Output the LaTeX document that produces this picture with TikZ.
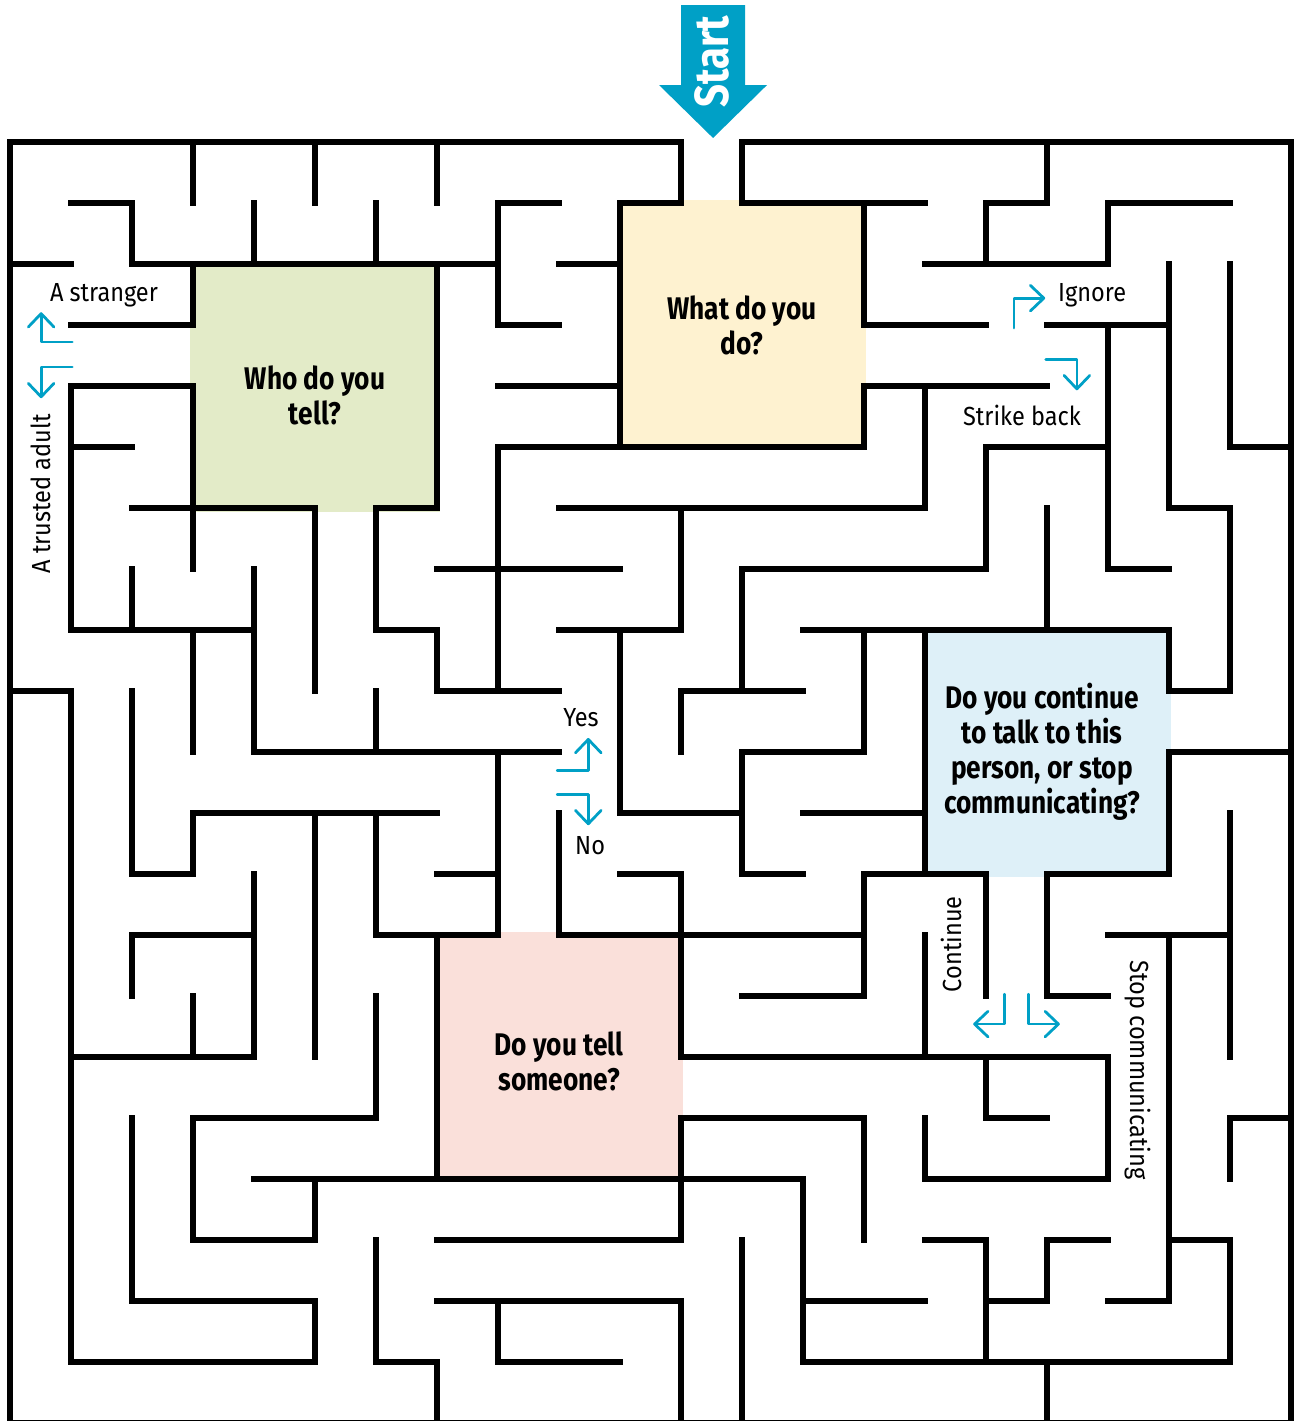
\documentclass[tikz,border=0pt]{standalone}
\usepackage{fontspec}
\setmainfont{Fira Sans}[FakeStretch=0.9]
\newfontfamily\boxfont{Fira Sans}[FakeStretch=0.84]
\usepackage{xcolor}
\usepackage{tikz}
\usetikzlibrary{arrows.meta,positioning}

\definecolor{mazeblue}{HTML}{00A0C6}
\definecolor{whofill}{HTML}{E3EBC8}
\definecolor{whatfill}{HTML}{FEF2D0}
\definecolor{talkfill}{HTML}{DEF0F8}
\definecolor{tellfill}{HTML}{FAE0DA}

\begin{document}
\begin{tikzpicture}[x=1cm, y=-1cm, line cap=rect, line join=miter,
    wall/.style={line width=2.8pt},
    hint/.style={mazeblue, line width=1.3pt, line cap=round, line join=round,
                 -{Straight Barb[length=2.2mm, width=4.2mm, round]}},
    question/.style={font=\boxfont\bfseries\fontsize{14.6}{16.3}\selectfont, align=center},
    choice/.style={font=\fontsize{12.2}{14}\selectfont}]

% one grid unit = one corridor; y runs downwards
\useasboundingbox (-0.164,-2.328) rectangle (21.033,20.967);

% ---------------------------------------------------------
% Question boxes (fills)
% ---------------------------------------------------------
\fill[whofill]  (2.95,1.95)  rectangle (7.05,6.07);
\fill[whatfill] (9.95,0.95)  rectangle (14.03,5.05);
\fill[talkfill] (14.95,7.95) rectangle (19.03,12.05);
\fill[tellfill] (6.95,12.95) rectangle (11.04,17.05);

% ---------------------------------------------------------
% Start arrow
% ---------------------------------------------------------
\fill[mazeblue] (11.0,-2.246) -- (12.05,-2.246) -- (12.05,-0.934) -- (12.41,-0.934)
    -- (11.525,-0.066) -- (10.64,-0.934) -- (11.0,-0.934) -- cycle;
\node[rotate=90, text=white, font=\boxfont\bfseries\fontsize{22.3}{24}\selectfont]
    (start) at (11.5,-1.31) {Start};

% ---------------------------------------------------------
% Horizontal walls (row by row)
% ---------------------------------------------------------
\draw[wall] (0,0) -- (11,0) (12,0) -- (21,0);
\draw[wall] (1,1) -- (2,1) (8,1) -- (9,1) (10,1) -- (11,1) (12,1) -- (15,1) (16,1) -- (17,1) (18,1) -- (20,1);
\draw[wall] (0,2) -- (1,2) (2,2) -- (8,2) (9,2) -- (10,2) (15,2) -- (18,2);
\draw[wall] (1,3) -- (3,3) (8,3) -- (9,3) (14,3) -- (16,3) (17,3) -- (19,3);
\draw[wall] (1,4) -- (3,4) (8,4) -- (10,4) (14,4) -- (17,4);
\draw[wall] (1,5) -- (2,5) (8,5) -- (14,5) (16,5) -- (18,5) (20,5) -- (21,5);
\draw[wall] (2,6) -- (5,6) (6,6) -- (7,6) (9,6) -- (15,6) (19,6) -- (20,6);
\draw[wall] (7,7) -- (10,7) (12,7) -- (16,7) (18,7) -- (19,7);
\draw[wall] (1,8) -- (4,8) (6,8) -- (7,8) (9,8) -- (11,8) (13,8) -- (19,8);
\draw[wall] (0,9) -- (1,9) (7,9) -- (9,9) (11,9) -- (13,9) (19,9) -- (20,9);
\draw[wall] (4,10) -- (9,10) (12,10) -- (14,10) (19,10) -- (21,10);
\draw[wall] (3,11) -- (7,11) (10,11) -- (12,11) (13,11) -- (15,11);
\draw[wall] (2,12) -- (3,12) (7,12) -- (8,12) (10,12) -- (11,12) (12,12) -- (13,12) (14,12) -- (16,12) (17,12) -- (19,12);
\draw[wall] (2,13) -- (4,13) (6,13) -- (8,13) (9,13) -- (14,13) (18,13) -- (20,13);
\draw[wall] (12,14) -- (14,14) (17,14) -- (18,14);
\draw[wall] (1,15) -- (4,15) (11,15) -- (18,15);
\draw[wall] (3,16) -- (6,16) (11,16) -- (14,16) (16,16) -- (17,16) (20,16) -- (21,16);
\draw[wall] (4,17) -- (13,17) (15,17) -- (18,17);
\draw[wall] (3,18) -- (5,18) (7,18) -- (11,18) (15,18) -- (16,18) (17,18) -- (18,18) (19,18) -- (20,18);
\draw[wall] (2,19) -- (5,19) (7,19) -- (11,19) (13,19) -- (15,19) (16,19) -- (17,19) (18,19) -- (19,19);
\draw[wall] (1,20) -- (5,20) (6,20) -- (7,20) (8,20) -- (10,20) (13,20) -- (20,20);
\draw[wall] (0,21) -- (21,21);

% ---------------------------------------------------------
% Vertical walls (column by column)
% ---------------------------------------------------------
\draw[wall] (0,0) -- (0,21);
\draw[wall] (1,4) -- (1,8) (1,9) -- (1,20);
\draw[wall] (2,1) -- (2,2) (2,7) -- (2,8) (2,9) -- (2,12) (2,13) -- (2,14) (2,16) -- (2,19);
\draw[wall] (3,0) -- (3,1) (3,2) -- (3,3) (3,4) -- (3,7) (3,8) -- (3,10) (3,11) -- (3,12) (3,14) -- (3,15) (3,16) -- (3,18);
\draw[wall] (4,1) -- (4,2) (4,7) -- (4,10) (4,12) -- (4,15);
\draw[wall] (5,0) -- (5,1) (5,6) -- (5,9) (5,11) -- (5,15) (5,17) -- (5,18) (5,19) -- (5,20);
\draw[wall] (6,1) -- (6,2) (6,6) -- (6,8) (6,9) -- (6,10) (6,11) -- (6,13) (6,14) -- (6,16) (6,18) -- (6,20);
\draw[wall] (7,0) -- (7,1) (7,2) -- (7,6) (7,8) -- (7,9) (7,13) -- (7,17) (7,20) -- (7,21);
\draw[wall] (8,1) -- (8,3) (8,5) -- (8,9) (8,10) -- (8,13) (8,19) -- (8,20);
\draw[wall] (9,11) -- (9,13);
\draw[wall] (10,1) -- (10,5) (10,8) -- (10,11);
\draw[wall] (11,0) -- (11,1) (11,6) -- (11,8) (11,9) -- (11,10) (11,12) -- (11,15) (11,16) -- (11,18) (11,19) -- (11,21);
\draw[wall] (12,0) -- (12,1) (12,7) -- (12,9) (12,10) -- (12,12) (12,18) -- (12,21);
\draw[wall] (13,17) -- (13,20);
\draw[wall] (14,1) -- (14,3) (14,4) -- (14,5) (14,8) -- (14,10) (14,12) -- (14,14) (14,16) -- (14,18);
\draw[wall] (15,4) -- (15,6) (15,8) -- (15,12) (15,13) -- (15,15) (15,16) -- (15,17);
\draw[wall] (16,1) -- (16,2) (16,5) -- (16,7) (16,12) -- (16,14) (16,15) -- (16,16) (16,18) -- (16,20);
\draw[wall] (17,0) -- (17,1) (17,6) -- (17,8) (17,12) -- (17,14) (17,18) -- (17,19) (17,20) -- (17,21);
\draw[wall] (18,1) -- (18,2) (18,3) -- (18,7) (18,15) -- (18,17);
\draw[wall] (19,2) -- (19,6) (19,8) -- (19,9) (19,10) -- (19,12) (19,13) -- (19,19);
\draw[wall] (20,2) -- (20,5) (20,6) -- (20,9) (20,11) -- (20,15) (20,16) -- (20,17) (20,18) -- (20,20);
\draw[wall] (21,0) -- (21,21);

% ---------------------------------------------------------
% Questions
% ---------------------------------------------------------
\node[question] (who)  at (5,4.15)     {Who do you\\tell?};
\node[question] (what) at (12,3.0)     {What do you\\do?};
\node[question] (talk) at (16.92,10.0) {Do you continue\\to talk to this\\person, or stop\\communicating?};
\node[question] (tell) at (9,15.07)    {Do you tell\\someone?};

% ---------------------------------------------------------
% Choices and hint arrows
% ---------------------------------------------------------
\node[choice] (stranger) at (1.54,2.52) {A stranger};
\node[choice, rotate=90] (adult) at (0.5,5.77) {A trusted adult};
\draw[hint] (1.02,3.28) -- (0.51,3.28) -- (0.51,2.79);
\draw[hint] (1.02,3.69) -- (0.51,3.69) -- (0.51,4.2);

\node[choice] (ignore) at (17.74,2.52) {Ignore};
\node[choice] (strike) at (16.59,4.49) {Strike back};
\draw[hint] (16.46,3.05) -- (16.46,2.56) -- (16.97,2.56);
\draw[hint] (16.98,3.56) -- (17.49,3.56) -- (17.49,4.07);

\node[choice] (yes) at (9.36,9.43)  {Yes};
\node[choice] (no)  at (9.51,11.54) {No};
\draw[hint] (8.97,10.3) -- (9.48,10.3) -- (9.48,9.77);
\draw[hint] (8.97,10.7) -- (9.48,10.7) -- (9.48,11.2);

\node[choice, rotate=90]  (continue) at (15.44,13.15) {Continue};
\node[choice, rotate=-90] (stop)     at (18.49,15.21) {Stop communicating};
\draw[hint] (16.3,13.97) -- (16.3,14.46) -- (15.79,14.46);
\draw[hint] (16.7,13.97) -- (16.7,14.46) -- (17.21,14.46);

\end{tikzpicture}
\end{document}
